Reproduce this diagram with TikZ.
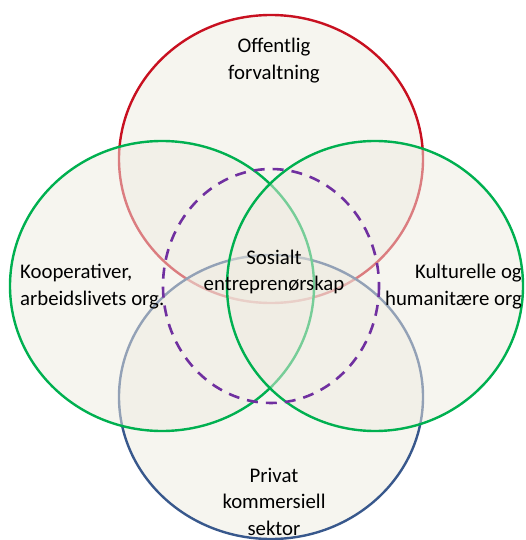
\documentclass[tikz,border=0pt]{standalone}
\usepackage{fontspec}
\setmainfont{Carlito}
\definecolor{offred}{RGB}{200,16,32}
\definecolor{orggreen}{RGB}{0,176,80}
\definecolor{privblue}{RGB}{56,88,140}
\definecolor{sospurple}{RGB}{112,48,160}
\definecolor{circfill}{RGB}{238,235,224}
\tikzset{
  sector/.style={line width=2.4pt, fill=circfill, fill opacity=0.5, draw opacity=1},
  label/.style={align=center, inner sep=0pt, font=\fontsize{20.8}{26.5}\selectfont}
}
\begin{document}
\begin{tikzpicture}[x=1pt,y=-1pt]

\useasboundingbox (0,0) rectangle (525,540);

% the four sectors, top and bottom first
\draw[sector, draw=offred]   (271,159) ellipse [x radius=152, y radius=144];
\draw[sector, draw=privblue] (271,397) ellipse [x radius=152, y radius=142];
\draw[sector, draw=orggreen] (162,286) ellipse [x radius=152, y radius=145];
\draw[sector, draw=orggreen] (375,286) ellipse [x radius=148, y radius=145];

% social entrepreneurship in the middle
\draw[sospurple, line width=2.6pt, dash pattern=on 11pt off 8pt]
  (271,286) ellipse [x radius=108, y radius=117];

\node[label] (offentlig) at (274,60.5) {Offentlig\\forvaltning};
\node[label] (sosialt) at (274,272) {Sosialt\\entreprenørskap};
\node[label, align=left, anchor=west] (koop) at (20,286.5) {Kooperativer,\\arbeidslivets org.};
\node[label, align=right, anchor=east] (kultur) at (522,286.5) {Kulturelle og\\humanitære org};
\node[label] (privat) at (274,501.5) {Privat\\kommersiell\\sektor};

\end{tikzpicture}
\end{document}
